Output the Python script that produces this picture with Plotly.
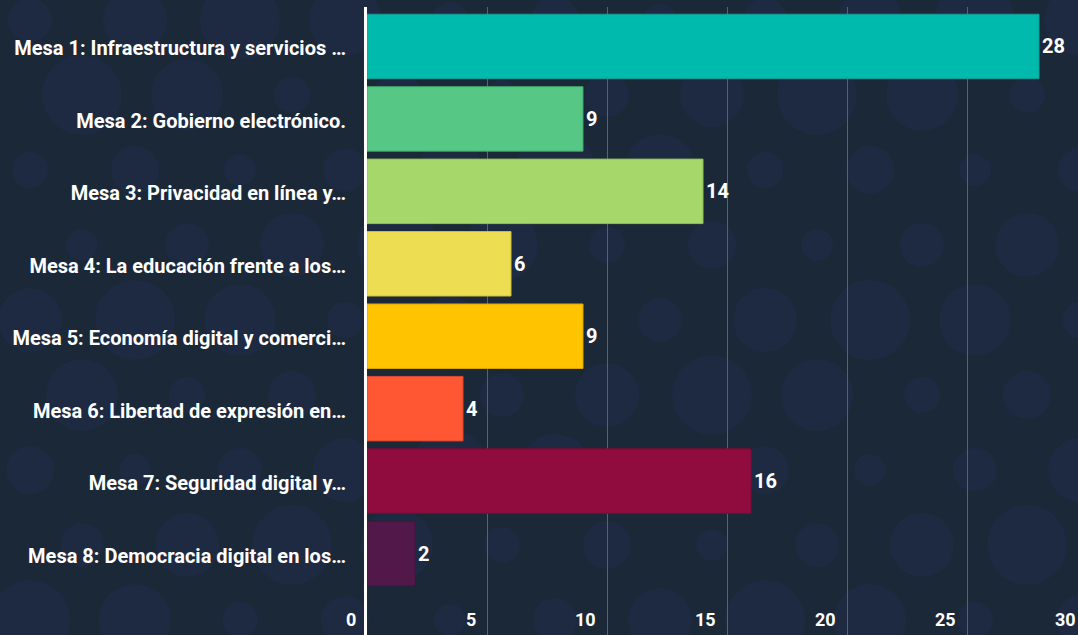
import plotly.graph_objects as go

categories = [
    "Mesa 1: Infraestructura y servicios …",
    "Mesa 2: Gobierno electrónico.",
    "Mesa 3: Privacidad en línea y…",
    "Mesa 4: La educación frente a los…",
    "Mesa 5: Economía digital y comerci…",
    "Mesa 6: Libertad de expresión en…",
    "Mesa 7: Seguridad digital y…",
    "Mesa 8: Democracia digital en los…",
]
values = [28, 9, 14, 6, 9, 4, 16, 2]
colors = ["#00BAAD", "#57C785", "#A5D76A", "#EDDD53", "#FFC300", "#FF5733", "#900C3F", "#511849"]
edge_colors = ["#139e94", "#3fa86c", "#8fbf58", "#cdbd40", "#d9a600", "#d94a2b", "#7a0a35", "#45143d"]
x_ticks = [0, 5, 10, 15, 20, 25, 30]
X_MAX = 29.625

BG = "#1b2838"
FONT = "Roboto"

fig = go.Figure()
fig.add_trace(go.Bar(
    x=values,
    y=categories,
    orientation="h",
    marker=dict(color=colors, line=dict(color=edge_colors, width=1)),
    width=0.89,
    text=[str(v) for v in values],
    textposition="outside",
    textfont=dict(family=FONT, size=20, color="#ffffff", weight="bold"),
    cliponaxis=False,
    hoverinfo="x+y",
))

# decorative background circles (pattern only, not data)
shapes = []
sizes = [0.55, 0.9, 0.4, 1.0, 0.6, 0.8, 0.45]
for row in range(9):
    for col in range(11):
        cx = 30 + col * 105 + (52 if row % 2 else 0)
        cy = 20 + row * 75
        r = 40 * sizes[(row * 3 + col * 5) % len(sizes)]
        shapes.append(dict(
            type="circle", xref="paper", yref="paper", layer="below",
            x0=(cx - r - 367) / 711, x1=(cx + r - 367) / 711,
            y0=(635 - cy - r) / 628, y1=(635 - cy + r) / 628,
            fillcolor="#1e2a41", line=dict(width=0),
        ))

annotations = [
    dict(
        text=str(t), xref="paper", yref="paper",
        x=t / X_MAX, y=0, xanchor="right", yanchor="bottom",
        xshift=-9, yshift=3, showarrow=False,
        font=dict(family=FONT, size=18, color="#ffffff", weight="bold"),
    )
    for t in x_ticks
]

fig.update_layout(
    width=1078, height=635,
    margin=dict(l=367, r=0, t=7, b=0),
    paper_bgcolor=BG,
    plot_bgcolor="rgba(0,0,0,0)",
    showlegend=False,
    bargap=0.11,
    shapes=shapes,
    annotations=annotations,
    font=dict(family=FONT, color="#ffffff"),
)
fig.update_xaxes(
    range=[0, X_MAX],
    tickvals=x_ticks,
    showticklabels=False,
    showgrid=True, gridcolor="#59636f", gridwidth=1,
    zeroline=False,
    showline=False,
    ticks="",
)
fig.update_yaxes(
    autorange=False,
    range=[8.125, -0.545],
    type="category",
    showgrid=False,
    showline=True, linecolor="#ffffff", linewidth=3,
    ticks="outside", ticklen=14, tickcolor="rgba(0,0,0,0)",
    ticklabelshift=-2,
    tickfont=dict(family=FONT, size=20, color="#ffffff", weight="bold"),
)

fig.write_html("out.html")
